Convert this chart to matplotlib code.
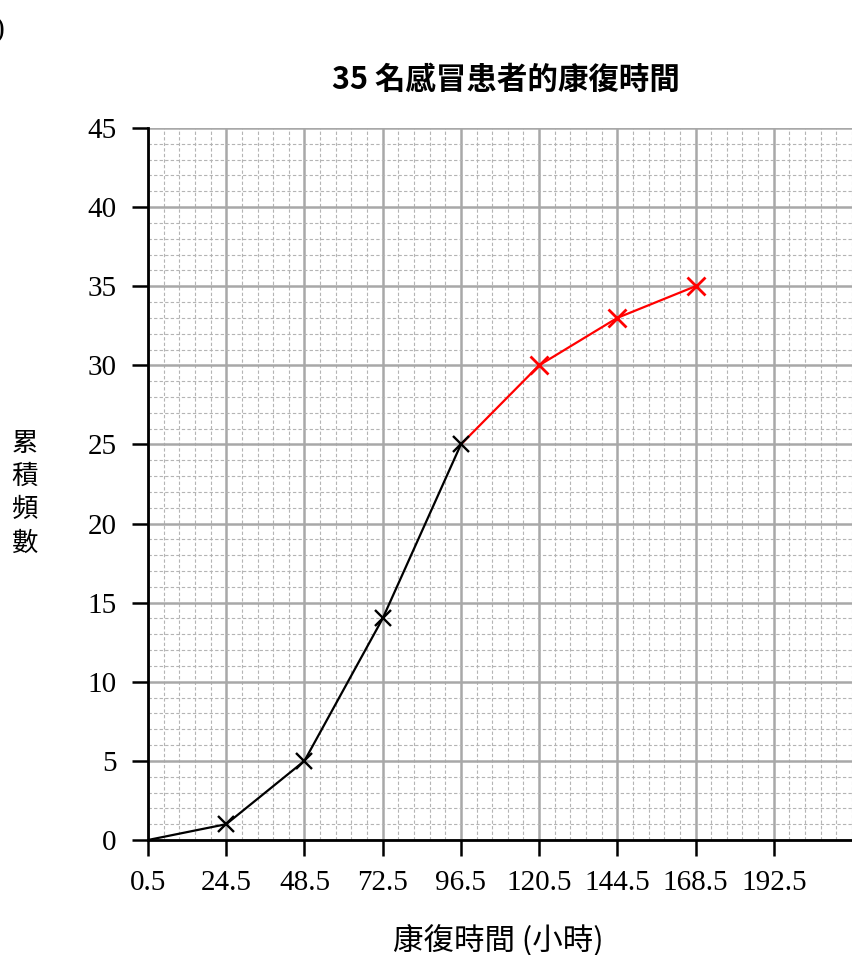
import numpy as np
import matplotlib
matplotlib.use("Agg")
import matplotlib.pyplot as plt
from matplotlib.ticker import MultipleLocator, FixedLocator

# data: cumulative frequency of recovery time
x_black = [0.5, 24.5, 48.5, 72.5, 96.5]
y_black = [0, 1, 5, 14, 25]
x_red = [96.5, 120.5, 144.5, 168.5]
y_red = [25, 30, 33, 35]
x_ticks = [0.5, 24.5, 48.5, 72.5, 96.5, 120.5, 144.5, 168.5, 192.5]
y_ticks = [0, 5, 10, 15, 20, 25, 30, 35, 40, 45]

CJK = ["Noto Sans CJK TC", "DejaVu Sans"]
SERIF = ["Liberation Serif", "DejaVu Serif"]

fig = plt.figure(figsize=(8.53, 9.55), dpi=100)
ax = fig.add_axes([148 / 853, 1 - 840 / 955, (852 - 148) / 853, (840 - 128) / 955])

ax.set_xlim(0.5, 216.5)
ax.set_ylim(0, 45)

# grid
ax.xaxis.set_major_locator(FixedLocator(x_ticks))
ax.yaxis.set_major_locator(FixedLocator(y_ticks))
ax.xaxis.set_minor_locator(FixedLocator(np.arange(0.5, 216.6, 4.8)))
ax.yaxis.set_minor_locator(MultipleLocator(1))
ax.grid(which="minor", color="#b4b4b4", ls=(0, (3, 2)), lw=0.8)
ax.grid(which="major", color="#a8a8a8", ls="-", lw=1.8)
ax.set_axisbelow(True)
ax.tick_params(which="minor", length=0)
ax.tick_params(which="major", direction="out", length=11.5, width=1.8, color="black")
ax.tick_params(axis="x", pad=10)
ax.tick_params(axis="y", pad=11)

for s in ["top", "right"]:
    ax.spines[s].set_visible(False)
for s in ["left", "bottom"]:
    ax.spines[s].set_linewidth(2)

ax.set_xticklabels([f"{v:g}" for v in x_ticks], family=SERIF, fontsize=21)
ax.set_yticklabels([str(v) for v in y_ticks], family=SERIF, fontsize=21)

ax.plot(x_black, y_black, color="black", lw=1.6, zorder=3)
ax.plot(x_black[1:], y_black[1:], ls="none", marker="x", ms=11, mew=1.7, color="black", zorder=4)
ax.plot(x_red, y_red, color="red", lw=1.6, zorder=3)
ax.plot(x_red[1:], y_red[1:], ls="none", marker="x", ms=13, mew=2, color="red", zorder=4)

fig.text(506 / 853, 1 - 80 / 955, "35 名感冒患者的康復時間", ha="center", va="center",
         fontsize=22, fontweight="bold", family=CJK)
fig.text(498 / 853, 1 - 940 / 955, "康復時間 (小時)", ha="center", va="center",
         fontsize=22, family=CJK)
fig.text(25 / 853, 1 - 493 / 955, "累\n積\n頻\n數", ha="center", va="center",
         fontsize=19, family=CJK, linespacing=1.3)
fig.text(0, 1 - 30 / 955, ")", ha="center", va="center", fontsize=21, family=SERIF)

fig.savefig("out.png", dpi=100, facecolor="white")
